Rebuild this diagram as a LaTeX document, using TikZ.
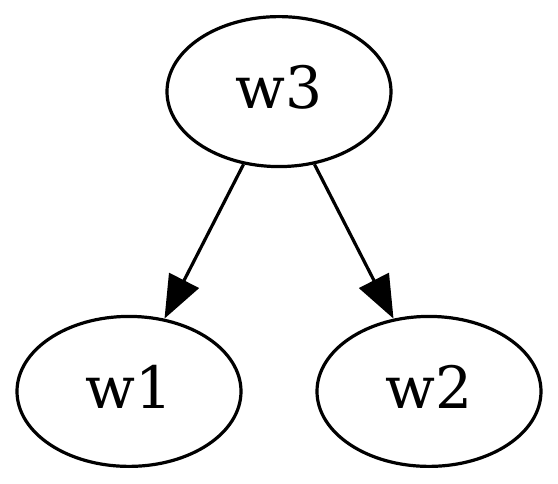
\documentclass[tikz,border=0pt]{standalone}
\usepackage{fontspec}
\setmainfont{DejaVu Serif}
\usetikzlibrary{shapes.geometric,arrows.meta}
\begin{document}
\begin{tikzpicture}[x=1pt,y=1pt,
  vnode/.style={ellipse,draw,line width=3.2pt,minimum width=224pt,minimum height=150pt,inner sep=0pt,text depth=10pt,font=\fontsize{58.3}{60}\selectfont},
  arr/.style={line width=3.2pt,-{Triangle[length=43pt,width=33pt]}}]
\useasboundingbox (0,0) rectangle (558,483);
\node[vnode] (w3) at (279,391.4) {w3};
\node[vnode] (w1) at (129,91.6) {w1};
\node[vnode] (w2) at (429,91.6) {w2};
\draw[arr] (w3.244) -- (w1.64);
\draw[arr] (w3.296) -- (w2.116);
\end{tikzpicture}
\end{document}
